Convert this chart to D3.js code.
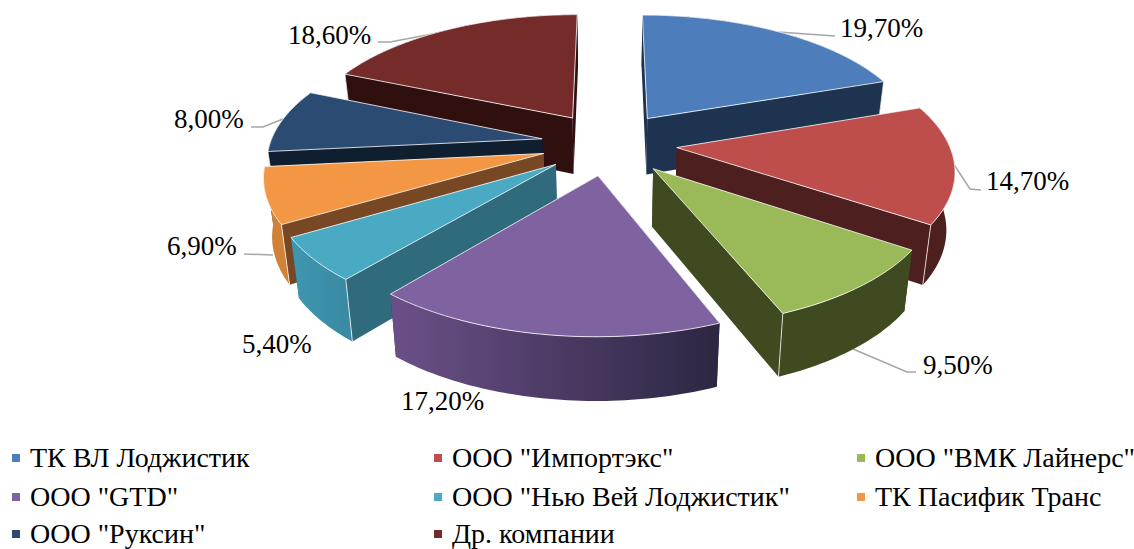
<!DOCTYPE html>
<html lang="ru">

<head>
    <meta charset="UTF-8">
    <title>Chart</title>
    <script src="https://cdn.jsdelivr.net/npm/d3@7/dist/d3.min.js"></script>
    <style>
        * {
            margin: 0;
        }

        body {
            background: #fff;
        }

        text {
            font-family: "Liberation Serif", serif;
            fill: #000;
        }
    </style>
</head>

<body>
    <svg id="chart" width="1134" height="549"></svg>
    <script>
        const categories = ['ТК ВЛ Лоджистик', 'ООО "Импортэкс"', 'ООО "ВМК Лайнерс"', 'ООО "GTD"',
            'ООО "Нью Вей Лоджистик"', 'ТК Пасифик Транс', 'ООО "Руксин"', 'Др. компании']
        const shares = [19.7, 14.7, 9.5, 17.2, 5.4, 6.9, 8.0, 18.6]

        const topColors = ['#4d7ebb', '#bd4e4b', '#9aba59', '#7f62a0', '#4aaac4', '#f39744', '#2b4b73', '#752b2a']
        const wallColors = ['#1e3350', '#4e1f1f', '#3f4a21', '#3b2e52', '#2f6b7c', '#774823', '#0f1f30', '#300f0f']
        const rimLeft = ['#1e3350', '#4e1f1f', '#3f4a21', '#6b5088', '#3f97b0', '#cc8038', '#0f1f30', '#300f0f']
        const rimRight = ['#1e3350', '#4e1f1f', '#3f4a21', '#2d2642', '#3a8aa3', '#d08238', '#0f1f30', '#300f0f']

        // подписи: куда ставить текст и выноски
        const labelSpots = [[840, 37], [986, 190], [923, 374], [401, 410], [242, 353], [167, 255], [174, 128], [288, 44]]
        const leaders = [
            [[778, 32], [835, 36]],
            [[953, 163], [970, 189], [981, 190]],
            [[853, 349], [907, 372], [916, 372]],
            null,
            null,
            [[273, 255], [244, 254]],
            [[283, 119], [263, 127], [251, 127]],
            [[448, 31], [390, 42], [378, 42]]
        ]

        // параметры псевдо-3D
        const cx = 609, cy = 143.5
        const scaleX = 272, scaleY = 126, persp = 0.15
        const explode = 0.25
        const depth = 57, depthPersp = 0.09, shrink = 0.025

        const svg = d3.select('#chart')
        const defs = svg.append('defs')
        const lineGen = d3.line()
        const comma = d3.formatLocale({ decimal: ',', thousands: ' ', grouping: [3], currency: ['', ''] }).format('.2f')

        // выноски идут под секторами
        svg.append('g').selectAll('path')
            .data(leaders.filter(d => d))
            .enter()
            .append('path')
            .attr('d', d => lineGen(d))
            .attr('fill', 'none')
            .attr('stroke', '#a6a6a6')
            .attr('stroke-width', 1.5)

        // угол 0 наверху, по часовой
        const pie = d3.pie().sort(null).value(d => d.value)
        const slices = pie(shares.map((value, i) => ({ value, i })))
            .map(s => ({ ...s, i: s.data.i, mid: (s.startAngle + s.endAngle) / 2 }))

        function planePoint(s, r, a) {
            return [explode * Math.sin(s.mid) + r * Math.sin(a), explode * Math.cos(s.mid) + r * Math.cos(a)]
        }
        function topPt(p) {
            const d = 1 + persp * p[1]
            return [cx + scaleX * p[0] / d, cy - scaleY * p[1] / d]
        }
        function botPt(p) {
            const t = topPt(p)
            return [cx + (t[0] - cx) * (1 - shrink), t[1] + depth / (1 + depthPersp * p[1])]
        }
        function arcPoints(s) {
            const n = Math.ceil((s.endAngle - s.startAngle) / 0.02)
            return d3.range(n + 1).map(k => planePoint(s, 1, s.startAngle + (s.endAngle - s.startAngle) * k / n))
        }

        // сначала дальние сектора
        const order = slices.slice().sort((a, b) => Math.cos(b.mid) - Math.cos(a.mid))
        const pieG = svg.append('g')

        order.forEach(s => {
            const rim = arcPoints(s)
            const apex = planePoint(s, 0, 0)
            const first = rim[0], last = rim[rim.length - 1]

            const xs = rim.map(p => topPt(p)[0])
            const grad = defs.append('linearGradient')
                .attr('id', 'rim' + s.i)
                .attr('gradientUnits', 'userSpaceOnUse')
                .attr('x1', d3.min(xs)).attr('x2', d3.max(xs))
                .attr('y1', 0).attr('y2', 0)
            grad.append('stop').attr('offset', 0).attr('stop-color', rimLeft[s.i])
            grad.append('stop').attr('offset', 1).attr('stop-color', rimRight[s.i])

            const g = pieG.append('g')

            // боковые стенки
            const walls = [first, last].map(end => [topPt(apex), topPt(end), botPt(end), botPt(apex)])
            walls.forEach(w => {
                g.append('path').attr('d', lineGen(w) + 'Z').attr('fill', wallColors[s.i])
            })

            // внешняя стенка
            const rimPath = rim.map(topPt).concat(rim.map(botPt).reverse())
            g.append('path').attr('d', lineGen(rimPath) + 'Z').attr('fill', `url(#rim${s.i})`)

            // светлая линия на видимом ребре
            if (Math.sin(s.startAngle) < -0.05) {
                g.append('path').attr('d', lineGen([topPt(first), botPt(first)]))
                    .attr('stroke', '#fff').attr('stroke-opacity', 0.75).attr('fill', 'none')
            }
            if (Math.sin(s.endAngle) > 0.05) {
                g.append('path').attr('d', lineGen([topPt(last), botPt(last)]))
                    .attr('stroke', '#fff').attr('stroke-opacity', 0.75).attr('fill', 'none')
            }

            // верхняя грань
            const face = [topPt(apex)].concat(rim.map(topPt))
            g.append('path').attr('d', lineGen(face) + 'Z')
                .attr('fill', topColors[s.i])
                .attr('stroke', '#fff')
                .attr('stroke-opacity', 0.8)
                .attr('stroke-width', 1)
                .attr('stroke-linejoin', 'round')
        })

        // подписи значений
        svg.append('g').selectAll('text')
            .data(shares)
            .enter()
            .append('text')
            .attr('x', (d, i) => labelSpots[i][0])
            .attr('y', (d, i) => labelSpots[i][1])
            .attr('font-size', 27)
            .text(d => comma(d) + '%')

        // легенда
        const colX = d3.scaleOrdinal().domain([0, 1, 2]).range([12, 434, 857])
        const rowY = d3.scaleOrdinal().domain([0, 1, 2]).range([458, 497, 534])
        const legend = svg.append('g').selectAll('g')
            .data(categories)
            .enter()
            .append('g')
            .attr('transform', (d, i) => `translate(${colX(i % 3)},${rowY(Math.floor(i / 3))})`)
        legend.append('rect')
            .attr('x', 0).attr('y', -4)
            .attr('width', 8).attr('height', 8)
            .attr('fill', (d, i) => topColors[i])
        legend.append('text')
            .attr('x', 18).attr('y', 9)
            .attr('font-size', 28)
            .text(d => d)
    </script>
</body>

</html>
